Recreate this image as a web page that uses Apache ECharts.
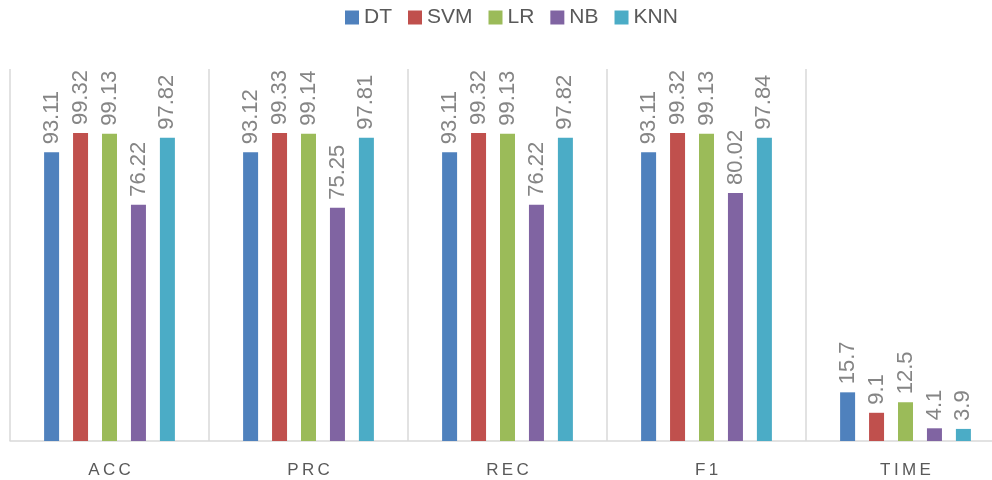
<!DOCTYPE html>
<html>
<head>
<meta charset="utf-8">
<script src="https://cdn.jsdelivr.net/npm/echarts@6/dist/echarts.min.js"></script>
<style>
  html, body { margin: 0; padding: 0; background: #fff; overflow: hidden; }
  /* the plot runs a little past the right edge of the window */
  #chart { width: 1005px; height: 480px; }
</style>
</head>
<body>
<div id="chart"></div>
<script>
// Metric groups along the x axis
const categories = ['ACC', 'PRC', 'REC', 'F1', 'TIME'];

// Classifier results per metric
const seriesNames = ['DT', 'SVM', 'LR', 'NB', 'KNN'];
const dtValues  = [93.11, 93.12, 93.11, 93.11, 15.7];
const svmValues = [99.32, 99.33, 99.32, 99.32, 9.1];
const lrValues  = [99.13, 99.14, 99.13, 99.13, 12.5];
const nbValues  = [76.22, 75.25, 76.22, 80.02, 4.1];
const knnValues = [97.82, 97.81, 97.82, 97.84, 3.9];

const colors = ['#4f81bd', '#c0504d', '#9bbb59', '#8064a2', '#4bacc6'];
const allValues = [dtValues, svmValues, lrValues, nbValues, knnValues];

const FONT = '"Liberation Sans", "DejaVu Sans", sans-serif';

const chart = echarts.init(document.getElementById('chart'), null, { renderer: 'canvas' });

chart.setOption({
  animation: false,
  color: colors,
  textStyle: { fontFamily: FONT },
  legend: {
    top: 2,
    left: 340,
    icon: 'rect',
    itemWidth: 14,
    itemHeight: 14,
    itemGap: 16,
    textStyle: { color: '#595959', fontSize: 21, fontFamily: FONT },
    data: seriesNames
  },
  grid: { left: 10, right: 0, top: 69, bottom: 39, containLabel: false },
  xAxis: {
    type: 'category',
    data: categories,
    axisLine: { show: true, lineStyle: { color: '#d9d9d9', width: 1.5 } },
    axisTick: { show: false },
    splitLine: { show: true, interval: 0, lineStyle: { color: '#d9d9d9', width: 1.5 } },
    axisLabel: {
      color: '#595959',
      fontSize: 17,
      margin: 21,
      fontFamily: FONT,
      formatter: function (v) { return v.split('').join('\u2009'); }
    }
  },
  yAxis: {
    type: 'value',
    min: 0,
    max: 120,
    show: false,
    splitLine: { show: false }
  },
  series: seriesNames.map(function (name, i) {
    return {
      name: name,
      type: 'bar',
      data: allValues[i],
      barWidth: 15,
      barGap: '93%',
      label: {
        show: true,
        position: 'top',
        rotate: 90,
        align: 'left',
        verticalAlign: 'middle',
        distance: 8,
        color: '#858585',
        fontSize: 22,
        fontFamily: FONT
      }
    };
  })
});
</script>
</body>
</html>
